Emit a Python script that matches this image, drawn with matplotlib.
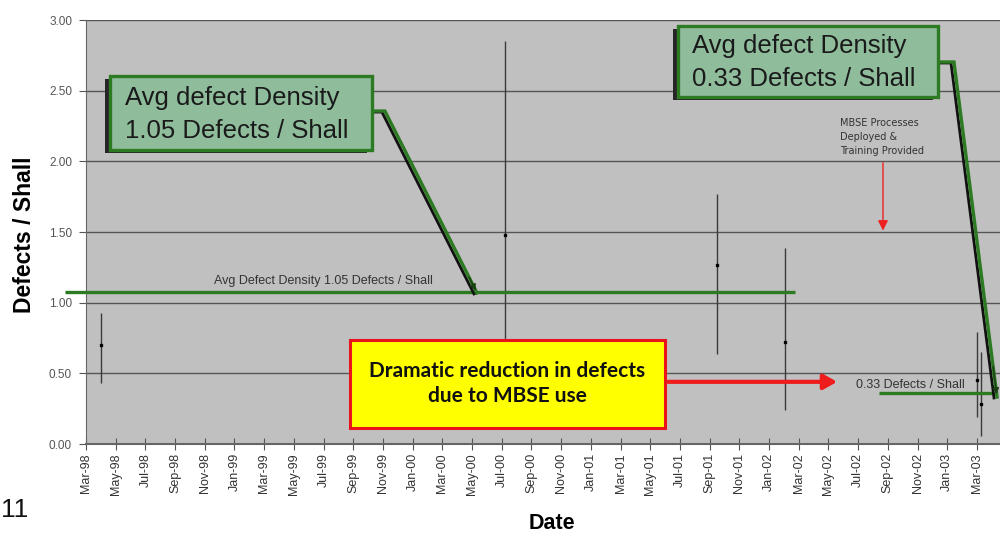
import matplotlib
matplotlib.use("Agg")
import matplotlib.pyplot as plt
from matplotlib.patches import Rectangle

# ---------------- data ----------------
month_labels = ["Mar-98", "May-98", "Jul-98", "Sep-98", "Nov-98", "Jan-99", "Mar-99", "May-99",
                "Jul-99", "Sep-99", "Nov-99", "Jan-00", "Mar-00", "May-00", "Jul-00", "Sep-00",
                "Nov-00", "Jan-01", "Mar-01", "May-01", "Jul-01", "Sep-01", "Nov-01", "Jan-02",
                "Mar-02", "May-02", "Jul-02", "Sep-02", "Nov-02", "Jan-03", "Mar-03"]
# months since Mar-98
pt_month = [1.0, 28.2, 42.5, 47.1, 60.0, 60.3]
pt_mean = [0.70, 1.48, 1.27, 0.72, 0.45, 0.28]
pt_high = [0.93, 2.85, 1.77, 1.39, 0.79, 0.65]
pt_low = [0.43, 0.11, 0.64, 0.24, 0.19, 0.06]

avg_before = 1.075
avg_after = 0.36

# ---------------- figure ----------------
fig = plt.figure(figsize=(10, 5.34), dpi=100)
ax = fig.add_axes([0.086, 0.1685, 0.914, 0.794])
ax.set_facecolor("#c0c0c0")
ax.set_xlim(0, 61.55)
ax.set_ylim(0, 3.0)

PX = 14.85      # px per month
PY = 141.33     # px per unit


def dx(p):
    return p / PX


def dy(p):
    return p / PY


# grid
ax.set_yticks([0, 0.5, 1.0, 1.5, 2.0, 2.5, 3.0])
ax.set_yticklabels([f"{v:.2f}" for v in [0, 0.5, 1.0, 1.5, 2.0, 2.5, 3.0]],
                   fontsize=8.5, color="#555555", family="Liberation Sans")
ax.yaxis.grid(True, color="#555555", linewidth=1.0, zorder=0)
ax.set_axisbelow(True)
ax.set_xticks(range(0, 61, 2))
ax.set_xticklabels(month_labels, rotation=90, fontsize=9, color="#333333",
                   family="Liberation Sans")
ax.tick_params(axis="x", direction="inout", length=9, color="#555555", pad=2)
ax.tick_params(axis="y", direction="out", length=5, color="#555555", pad=5)
for s in ["top", "right"]:
    ax.spines[s].set_visible(False)
ax.spines["left"].set_color("#666666")
ax.spines["bottom"].set_color("#666666")
ax.spines["bottom"].set_linewidth(1.5)

# error bars
err_lo = [m - l for m, l in zip(pt_mean, pt_low)]
err_hi = [h - m for m, h in zip(pt_mean, pt_high)]
ax.errorbar(pt_month, pt_mean, yerr=[err_lo, err_hi], fmt="s", color="black",
            markersize=1.8, ecolor="#3a3a3a", elinewidth=1.0, capsize=0, zorder=3)

GREEN = "#2c7a22"
# average lines
ax.plot([-1.41, 47.74], [avg_before, avg_before], color=GREEN, lw=2.4,
        solid_capstyle="butt", clip_on=False, zorder=4)
ax.plot([53.4, 61.35], [avg_after, avg_after], color=GREEN, lw=2.4,
        solid_capstyle="butt", clip_on=False, zorder=4)
ax.text(15.96, 1.153, "Avg Defect Density 1.05 Defects / Shall", fontsize=9,
        color="#333333", ha="center", va="center", family="Liberation Sans", zorder=4)
ax.text(55.49, 0.415, "0.33 Defects / Shall", fontsize=9, color="#333333",
        ha="center", va="center", family="Liberation Sans", zorder=4)


def callout(x0, x1, y0, y1, text, tx, ty, path):
    # shadow
    ax.add_patch(Rectangle((x0 - dx(5), y0 - dy(3)), x1 - x0, y1 - y0,
                           facecolor="#262626", edgecolor="none", zorder=6, clip_on=False))
    ax.add_patch(Rectangle((x0, y0), x1 - x0, y1 - y0, facecolor="#8fbd9c",
                           edgecolor=GREEN, linewidth=2.4, zorder=7, clip_on=False))
    ax.text(tx, ty, text, fontsize=18.5, color="#1a1a1a", ha="left", va="center",
            linespacing=1.45, family="Liberation Sans", zorder=8)
    xs = [p[0] for p in path]
    ys = [p[1] for p in path]
    ax.plot([x - dx(3) for x in xs], [y - dy(1) for y in ys], color="#111111", lw=2.0,
            zorder=5, clip_on=False, solid_joinstyle="miter")
    ax.plot(xs, ys, color=GREEN, lw=2.4, zorder=5, clip_on=False, solid_joinstyle="miter")
    ax.annotate("", xy=path[-1], xytext=(xs[-1] - (xs[-1] - xs[-2]) * 0.1,
                                          ys[-1] - (ys[-1] - ys[-2]) * 0.1),
                arrowprops=dict(arrowstyle="-|>,head_length=0.35,head_width=0.18",
                                color="#1a3f12", lw=1.0), zorder=5, annotation_clip=False)


callout(1.62, 19.26, 2.080, 2.604, "Avg defect Density\n1.05 Defects / Shall", 2.63, 2.33,
        [(19.26, 2.356), (20.13, 2.356), (26.33, 1.069)])
callout(39.87, 57.37, 2.455, 2.958, "Avg defect Density\n0.33 Defects / Shall", 40.81, 2.70,
        [(57.37, 2.703), (58.45, 2.703), (61.35, 0.333)])

# yellow box
ax.add_patch(Rectangle((17.78, 0.113), 38.99 - 17.78, 0.736 - 0.113, facecolor="#ffff00",
                       edgecolor="#e8141a", linewidth=2.2, zorder=7))
ax.text(28.35, 0.43, "Dramatic reduction in defects\ndue to MBSE use", fontsize=15,
        fontweight="bold", family="Lato", color="#111111", ha="center", va="center",
        linespacing=1.3, zorder=8)
ax.annotate("", xy=(50.77, 0.44), xytext=(38.99, 0.44),
            arrowprops=dict(arrowstyle="-|>,head_length=0.8,head_width=0.45",
                            color="#ee1c1c", lw=3), zorder=6)

# MBSE note
ax.text(50.77, 2.172, "MBSE Processes\nDeployed &\nTraining Provided", fontsize=7,
        color="#333333", ha="left", va="center", linespacing=1.55,
        family="Liberation Sans Narrow", zorder=4)
ax.annotate("", xy=(53.67, 1.49), xytext=(53.67, 2.01),
            arrowprops=dict(arrowstyle="-|>,head_length=0.6,head_width=0.3",
                            color="#ee2222", lw=1), zorder=4)

# axis titles
fig.text(0.025, 0.56, "Defects / Shall", rotation=90, fontsize=16.5, fontweight="bold",
         family="Liberation Sans", ha="center", va="center")
fig.text(0.552, 0.02, "Date", fontsize=15.5, fontweight="bold", family="Liberation Sans",
         ha="center", va="center")
fig.text(0.001, 0.045, "11", fontsize=19, family="Liberation Sans", ha="left",
         va="center", color="#111111")

fig.savefig("out.png", dpi=100)
